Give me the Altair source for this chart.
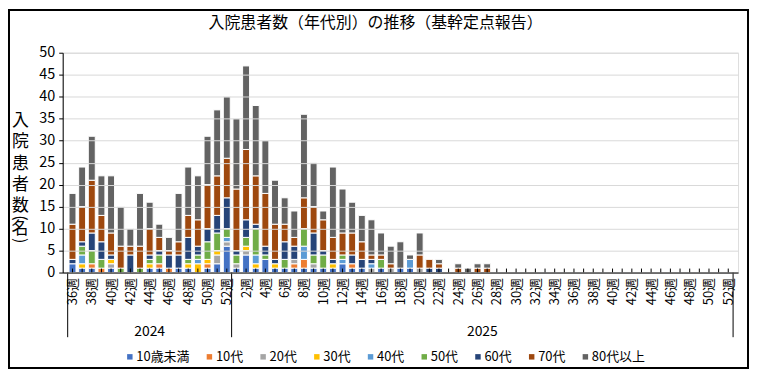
import json
import altair as alt
import pandas as pd

FONT = "Noto Sans CJK JP"

groups = ["10歳未満", "10代", "20代", "30代", "40代", "50代", "60代", "70代", "80代以上"]
colors = ["#4472C4", "#ED7D31", "#A5A5A5", "#FFC000", "#5B9BD5", "#70AD47", "#264478", "#9E480E", "#636363"]

# categories: 2024 weeks 36-52, 2025 weeks 1-52
years = ["2024"] * 17 + ["2025"] * 52
weeks = [36, 37, 38, 39, 40, 41, 42, 43, 44, 45, 46, 47, 48, 49, 50, 51, 52,
         1, 2, 3, 4, 5, 6, 7, 8, 9, 10, 11, 12, 13, 14, 15, 16, 17, 18, 19, 20,
         21, 22, 23, 24, 25, 26, 27, 28, 29, 30, 31, 32, 33, 34, 35, 36, 37, 38,
         39, 40, 41, 42, 43, 44, 45, 46, 47, 48, 49, 50, 51, 52]

u10 = [2, 1, 1, 0, 1, 0, 0, 0, 1, 1, 0, 1, 1, 0, 1, 2, 6,
       1, 4, 1, 3, 1, 1, 1, 1, 1, 1, 1, 2, 1, 1, 0, 1, 0, 1, 1, 0, 0, 0, 0, 0, 0, 0, 0,
       0, 0, 0, 0, 0, 0, 0, 0, 0, 0, 0, 0, 0, 0, 0, 0, 0, 0, 0, 0, 0, 0, 0, 0, 0]
a10 = [0, 0, 1, 1, 0, 0, 0, 0, 0, 1, 1, 0, 0, 0, 1, 0, 0,
       0, 0, 0, 0, 0, 0, 1, 2, 0, 0, 0, 0, 1, 0, 0, 0, 0, 0, 0, 0, 0, 0, 0, 0, 0, 0, 0,
       0, 0, 0, 0, 0, 0, 0, 0, 0, 0, 0, 0, 0, 0, 0, 0, 0, 0, 0, 0, 0, 0, 0, 0, 0]
a20 = [0, 0, 0, 0, 1, 0, 0, 0, 0, 0, 0, 0, 0, 0, 0, 2, 1,
       1, 1, 0, 0, 0, 0, 1, 0, 1, 0, 0, 0, 0, 0, 1, 0, 1, 0, 0, 1, 0, 0, 0, 0, 0, 0, 0,
       0, 0, 0, 0, 0, 0, 0, 0, 0, 0, 0, 0, 0, 0, 0, 0, 0, 0, 0, 0, 0, 0, 0, 0, 0]
a30 = [0, 1, 0, 0, 1, 0, 0, 0, 1, 0, 0, 0, 1, 2, 1, 1, 0,
       0, 1, 1, 0, 1, 0, 0, 0, 0, 0, 1, 0, 0, 0, 0, 0, 0, 0, 0, 0, 0, 0, 0, 0, 0, 0, 0,
       0, 0, 0, 0, 0, 0, 0, 0, 0, 0, 0, 0, 0, 0, 0, 0, 0, 0, 0, 0, 0, 0, 0, 0, 0]
a40 = [0, 2, 0, 0, 0, 0, 0, 0, 0, 0, 0, 0, 0, 1, 0, 0, 1,
       0, 0, 2, 0, 0, 0, 0, 3, 0, 0, 0, 1, 0, 0, 1, 0, 0, 0, 2, 0, 0, 0, 0, 0, 0, 0, 0,
       0, 0, 0, 0, 0, 0, 0, 0, 0, 0, 0, 0, 0, 0, 0, 0, 0, 0, 0, 0, 0, 0, 0, 0, 0]
a50 = [0, 2, 3, 2, 0, 1, 0, 1, 1, 2, 0, 0, 1, 1, 4, 4, 2,
       2, 2, 6, 1, 0, 2, 0, 4, 2, 3, 0, 1, 0, 0, 0, 2, 0, 0, 0, 0, 0, 0, 0, 0, 0, 0, 0,
       0, 0, 0, 0, 0, 0, 0, 0, 0, 0, 0, 0, 0, 0, 0, 0, 0, 0, 0, 0, 0, 0, 0, 0, 0]
a60 = [1, 1, 4, 4, 1, 0, 4, 0, 1, 1, 3, 3, 5, 2, 3, 4, 7,
       1, 4, 1, 2, 1, 4, 3, 0, 5, 1, 1, 0, 2, 2, 1, 0, 0, 0, 0, 0, 1, 1, 0, 0, 0, 0, 0,
       0, 0, 0, 0, 0, 0, 0, 0, 0, 0, 0, 0, 0, 0, 0, 0, 0, 0, 0, 0, 0, 0, 0, 0, 0]
a70 = [8, 8, 12, 6, 5, 5, 2, 5, 6, 3, 1, 3, 5, 6, 10, 9, 9,
       14, 16, 11, 12, 8, 4, 2, 7, 6, 7, 5, 5, 5, 4, 1, 1, 1, 0, 0, 3, 2, 1, 0, 1, 0, 1, 1,
       0, 0, 0, 0, 0, 0, 0, 0, 0, 0, 0, 0, 0, 0, 0, 0, 0, 0, 0, 0, 0, 0, 0, 0, 0]
a80 = [7, 9, 10, 9, 13, 9, 4, 12, 6, 3, 3, 11, 11, 10, 11, 15, 14,
       16, 19, 16, 12, 10, 6, 6, 19, 10, 2, 16, 10, 7, 6, 8, 5, 4, 6, 1, 5, 0, 1, 0, 1, 1, 1, 1,
       0, 0, 0, 0, 0, 0, 0, 0, 0, 0, 0, 0, 0, 0, 0, 0, 0, 0, 0, 0, 0, 0, 0, 0, 0]

series = [u10, a10, a20, a30, a40, a50, a60, a70, a80]

TITLE = "入院患者数（年代別）の推移（基幹定点報告）"
YTITLE_MAIN = ["入", "院", "患", "者", "数"]
YTITLE_UNIT = ["(", "名", ")"]

W, H = 679, 221
N = len(weeks)

rows = []
for gi, (g, vals) in enumerate(zip(groups, series)):
    for i, v in enumerate(vals):
        rows.append({"idx": i, "group": g, "ord": gi, "value": v})
df = pd.DataFrame(rows)

week_labels = [f"{w}週" for w in weeks]
label_expr = json.dumps(week_labels, ensure_ascii=False) + "[datum.value]"

xscale = alt.Scale(domain=[-0.5, N - 0.5], nice=False, zero=False)
xaxis = alt.Axis(values=list(range(0, N, 2)), labelExpr=label_expr, labelAngle=270,
                 labelFontSize=13, labelPadding=5, ticks=False, grid=False,
                 domainColor="black", domainWidth=1, title=None, labelColor="black",
                 labelOverlap=False, labelFlush=False, zindex=1, labelFont=FONT)

yaxis = alt.Axis(values=list(range(0, 51, 5)), labelFontSize=14.5, labelColor="black",
                 grid=True, gridColor="#D9D9D9", domainColor="black", tickColor="black",
                 tickSize=4, labelPadding=4, labelFont=FONT,
                 title=YTITLE_MAIN, titleAngle=0,
                 titleFontSize=17, titleLineHeight=21.5, titleX=-43, titleY=60,
                 titleBaseline="top", titleAlign="center", titleFontWeight="normal",
                 titleColor="black", titleFont=FONT, zindex=1)

legend = alt.Legend(orient="none", direction="horizontal", legendX=61, legendY=299,
                    title=None, symbolType="square", symbolSize=30, symbolStrokeWidth=0,
                    labelFontSize=13, columnPadding=13, labelOffset=0, labelColor="black",
                    labelFont=FONT, symbolOpacity=1)

bars = alt.Chart(df).transform_filter("datum.value > 0").mark_bar(
    size=7, stroke="white", strokeWidth=1
).encode(
    x=alt.X("idx:Q", scale=xscale, axis=xaxis),
    y=alt.Y("value:Q", stack="zero", scale=alt.Scale(domain=[0, 50], nice=False), axis=yaxis),
    color=alt.Color("group:N", scale=alt.Scale(domain=groups, range=colors), legend=legend),
    order=alt.Order("ord:Q", sort="ascending"),
)

tick_df = pd.DataFrame({"idx": list(range(N))})
ticks = alt.Chart(tick_df).mark_rule(color="black", strokeWidth=1).encode(
    x=alt.X("idx:Q", scale=xscale, axis=xaxis),
    y=alt.value(H),
    y2=alt.value(H - 4),
)

# group boundaries and centres from the years list
bounds = [-0.5]
for i in range(1, N):
    if years[i] != years[i - 1]:
        bounds.append(i - 0.5)
bounds.append(N - 0.5)
sep_df = pd.DataFrame({"idx": bounds})
seps = alt.Chart(sep_df).mark_rule(color="black", strokeWidth=1).encode(
    x=alt.X("idx:Q", scale=xscale, axis=xaxis),
    y=alt.value(H),
    y2=alt.value(H + 65),
)

ylabels = []
ypos = []
for y in dict.fromkeys(years):
    ids = [i for i, v in enumerate(years) if v == y]
    ylabels.append(y)
    ypos.append((ids[0] + ids[-1]) / 2)
year_df = pd.DataFrame({"idx": ypos, "label": ylabels})
year_text = alt.Chart(year_df).mark_text(fontSize=14, font=FONT, color="black", baseline="middle").encode(
    x=alt.X("idx:Q", scale=xscale, axis=xaxis),
    y=alt.value(H + 60),
    text="label:N",
)

one = pd.DataFrame({"a": [0]})
frame = alt.Chart(one).mark_rect(fill=None, stroke="black", strokeWidth=2).encode(
    x=alt.value(-54), x2=alt.value(W + 10), y=alt.value(-43), y2=alt.value(H + 96)
)

title_text = alt.Chart(one).mark_text(fontSize=16, font=FONT, color="black", baseline="middle",
                                      align="center").encode(
    x=alt.value(W / 2 - 25), y=alt.value(-30), text=alt.value(TITLE)
)

# "(名)" written vertically: rotated half-width brackets around an upright 名
unit_open = alt.Chart(one).mark_text(fontSize=16, font=FONT, color="black", baseline="middle",
                                     align="center", angle=90).encode(
    x=alt.value(-43), y=alt.value(166), text=alt.value(YTITLE_UNIT[0])
)
unit_mid = alt.Chart(one).mark_text(fontSize=17, font=FONT, color="black", baseline="middle",
                                    align="center").encode(
    x=alt.value(-43), y=alt.value(177), text=alt.value(YTITLE_UNIT[1])
)
unit_close = alt.Chart(one).mark_text(fontSize=16, font=FONT, color="black", baseline="middle",
                                      align="center", angle=90).encode(
    x=alt.value(-43), y=alt.value(189), text=alt.value(YTITLE_UNIT[2])
)

chart = alt.layer(bars, ticks, seps, year_text, title_text, unit_open, unit_mid, unit_close,
                  frame).properties(
    width=W, height=H,
    autosize=alt.AutoSizeParams(type="none"),
    padding={"left": 55, "top": 44, "right": 11, "bottom": 97},
).configure_view(stroke=None).configure(font=FONT, background="white")

chart.save("out.html", embed_options={"renderer": "svg", "actions": False})
